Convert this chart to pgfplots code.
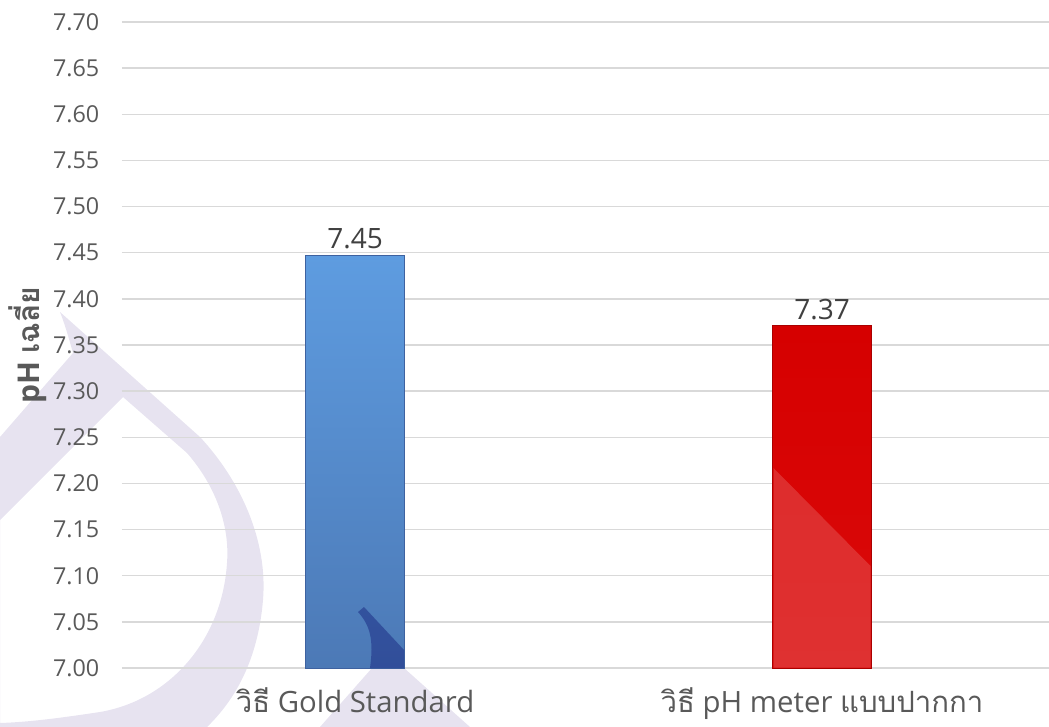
\documentclass[border=0pt]{standalone}
\usepackage{fontspec}
\setmainfont{Open Sans}
\newfontfamily\thaifont[Script=Thai]{Loma}
\usepackage{pgfplots}
\pgfplotsset{compat=1.18}
\definecolor{tickgray}{RGB}{89,89,89}
\definecolor{valgray}{RGB}{64,64,64}
\definecolor{gridgray}{RGB}{217,217,217}
\definecolor{lav}{RGB}{231,227,240}
\definecolor{bluetop}{RGB}{94,156,224}
\definecolor{bluebot}{RGB}{76,121,182}
\definecolor{blueedge}{RGB}{62,98,160}
\definecolor{redtop}{RGB}{214,0,0}
\definecolor{redbot}{RGB}{218,10,10}
\definecolor{rededge}{RGB}{170,0,0}
\begin{document}
\begin{tikzpicture}
\useasboundingbox (0,0) rectangle (786.75pt,-545.25pt);
\begin{scope}[x=0.75pt,y=-0.75pt]
\fill[lav, even odd rule]
  (60,312) -- (200,437) .. controls (240,480) and (268,540) .. (263,600)
  .. controls (258,660) and (235,700) .. (207,727) -- (0,727) -- (0,437)
  -- (73,353) .. controls (68,335) and (64,322) .. (60,312) -- cycle
  (123,397) -- (187,453) .. controls (215,485) and (230,525) .. (227,563)
  .. controls (222,640) and (170,700) .. (100,712) .. controls (60,718) and (30,722) .. (0,723)
  -- (0,520) -- cycle;
\fill[lav] (372,668) -- (404,668) -- (470,727) -- (320,727) -- cycle;
\end{scope}
\begin{axis}[
  at={(91.5pt,-501pt)}, anchor=south west,
  scale only axis, width=695.25pt, height=484.5pt,
  ymin=7, ymax=7.7,
  ytick={7.00,7.05,7.10,7.15,7.20,7.25,7.30,7.35,7.40,7.45,7.50,7.55,7.60,7.65,7.70},
  xmin=-0.499, xmax=1.486,
  xtick={0,1},
  xticklabels={{{\thaifont วิธี} Gold Standard},{{\thaifont วิธี} pH meter {\thaifont แบบปากกา}}},
  axis line style={draw=none},
  major tick length=0pt,
  ymajorgrids,
  grid style={color=gridgray, line width=1.1pt},
  /pgf/number format/assume math mode=true,
  yticklabel style={/pgf/number format/fixed, /pgf/number format/fixed zerofill, /pgf/number format/precision=2,
    font=\fontsize{17.5}{20}\selectfont, text=tickgray, xshift=-13.5pt},
  xticklabel style={font=\fontsize{22}{26}\selectfont, text=tickgray, yshift=-11pt},
  ylabel={pH {\thaifont เฉลี่ย}},
  ylabel style={at={(axis description cs:-0.102,0.5)}, anchor=center, font=\bfseries\fontsize{22.5}{26}\selectfont, text=tickgray},
  nodes near coords,
  nodes near coords style={/pgf/number format/fixed, /pgf/number format/fixed zerofill, /pgf/number format/precision=2,
    font=\fontsize{21}{25}\selectfont, text=valgray, anchor=south, yshift=1pt},
]
\addplot[ybar, bar width=74.25pt, bar shift=0pt, top color=bluetop, bottom color=bluebot, draw=blueedge, line width=0.6pt]
  coordinates {(0,7.447)};
\addplot[ybar, bar width=74.25pt, bar shift=0pt, top color=redtop, bottom color=redbot, draw=rededge, line width=0.6pt]
  coordinates {(1,7.371)};
\end{axis}
\begin{scope}[x=0.75pt,y=-0.75pt]
\fill[blue!40!black, opacity=0.35] (358,612) -- (364,607) -- (404,650) -- (404,668) -- (370,668)
  .. controls (374,640) and (370,625) .. (358,612) -- cycle;
\fill[white, opacity=0.16] (773.5,468) -- (870.5,566) -- (870.5,667.5) -- (773.5,667.5) -- cycle;
\end{scope}
\end{tikzpicture}
\end{document}
